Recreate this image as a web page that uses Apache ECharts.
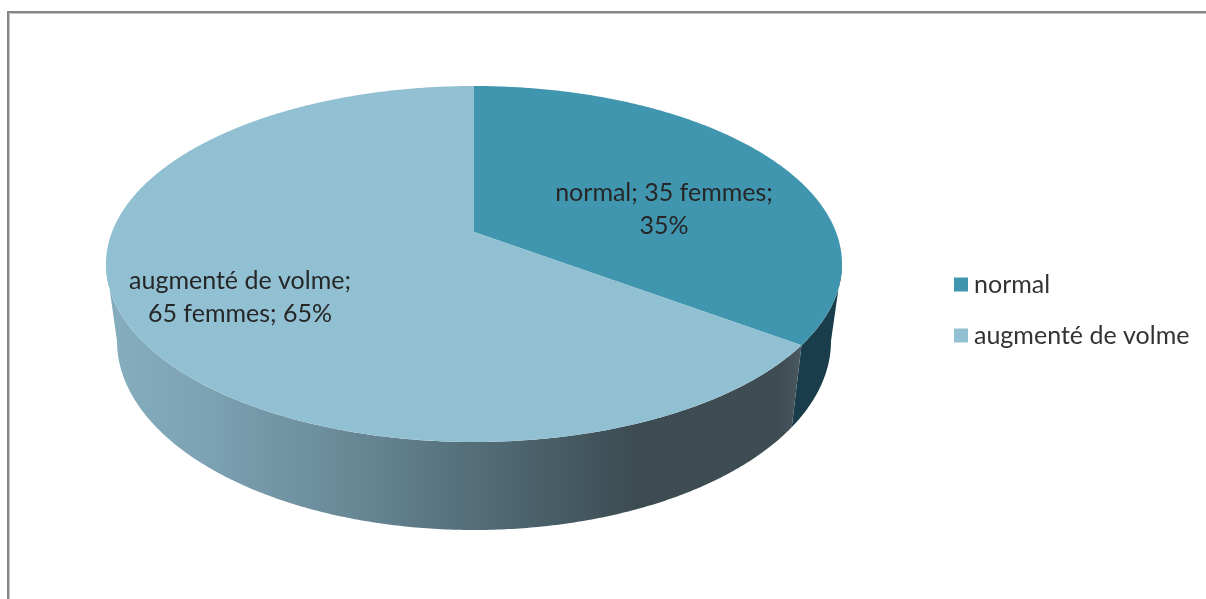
<!DOCTYPE html>
<html>
<head>
<meta charset="utf-8">
<style>html,body{margin:0;padding:0;background:#fff}#c{width:1206px;height:599px}</style>
<script src="https://cdn.jsdelivr.net/npm/echarts@6/dist/echarts.min.js"></script>
</head>
<body>
<div id="c"></div>
<script>
const categories = ['normal', 'augmenté de volme'];
const values = [35, 65];
const labelTexts = ['normal; 35 femmes;\n35%', 'augmenté de volme;\n65 femmes; 65%'];

const topColors = ['#4095AF', '#92C0D3'];
const labelPos = [[664, 209], [240, 297]];
const TOP = {cx: 474, cy: 264, rx: 368, ry: 178};
const BOTTOM = {cx: 474, cy: 341, rx: 357, ry: 189};
const E = 0.18; // perspective of the tilted disc

function project(e, deg) {
  const a = deg * Math.PI / 180, u = Math.sin(a), v = Math.cos(a);
  const d = 1 + E * v;
  return [e.cx + e.rx * u * Math.sqrt(1 - E * E) / d, e.cy - e.ry * (v + E) / d];
}
function arc(e, a0, a1) {
  const n = Math.max(2, Math.ceil(Math.abs(a1 - a0) * 2)), pts = [];
  for (let i = 0; i <= n; i++) pts.push(project(e, a0 + (a1 - a0) * i / n));
  return pts;
}
const total = values.reduce((s, x) => s + x, 0);
function sliceRange(i) {
  const before = values.slice(0, i).reduce((s, x) => s + x, 0);
  return [before / total * 360, (before + values[i]) / total * 360];
}
// visible rim angles: cos(a) = -E on both sides
const rimRight = Math.acos(-E) * 180 / Math.PI;
const rimLeft = 360 - rimRight;

const wallFills = [
  '#193D4A',
  new echarts.graphic.LinearGradient(0, 0, 1, 0, [
    {offset: 0, color: '#86AEBF'},
    {offset: 0.16, color: '#7BA0B1'},
    {offset: 0.34, color: '#6A8A98'},
    {offset: 0.55, color: '#516B76'},
    {offset: 0.76, color: '#3C4C52'},
    {offset: 0.97, color: '#3E4D53'},
    {offset: 1, color: '#4A5A60'}
  ])
];

function renderSlice(i) {
  return function () {
    const [a0, a1] = sliceRange(i);
    const w0 = Math.max(a0, rimRight), w1 = Math.min(a1, rimLeft);
    const wall = arc(TOP, w0, w1).concat(arc(BOTTOM, w1, w0));
    const apex = [TOP.cx, TOP.cy - TOP.ry * E];
    const wedge = [apex].concat(arc(TOP, a0, a1));
    return {
      type: 'group',
      children: [
        {type: 'polygon', shape: {points: wall}, style: {fill: wallFills[i]}, z2: 1},
        {type: 'polygon', shape: {points: wedge}, style: {fill: topColors[i]}, z2: 2},
        {type: 'text', x: labelPos[i][0], y: labelPos[i][1], z2: 3, style: {
          text: labelTexts[i], align: 'center', verticalAlign: 'middle',
          font: '25px Lato', lineHeight: 33, fill: '#262626'
        }}
      ]
    };
  };
}

const chart = echarts.init(document.getElementById('c'), null, {renderer: 'canvas'});
chart.setOption({
  animation: false,
  backgroundColor: '#ffffff',
  graphic: [
    {type: 'rect', silent: true, z: 0, shape: {x: 9.5, y: 13.5, width: 1400, height: 800}, style: {fill: 'none', stroke: '#c4c4c4', lineWidth: 1}},
    {type: 'rect', silent: true, z: 0, shape: {x: 8, y: 12, width: 1400, height: 800}, style: {fill: 'none', stroke: '#868686', lineWidth: 2}}
  ],
  legend: {
    orient: 'vertical', left: 954, top: 272, itemWidth: 14, itemHeight: 14, itemGap: 26,
    icon: 'rect', selectedMode: false, padding: 0,
    textStyle: {fontFamily: 'Lato', fontSize: 25, color: '#333333', padding: [0, 0, 0, 1]},
    data: categories
  },
  series: categories.map((name, i) => ({
    type: 'custom', name, coordinateSystem: 'none', silent: true,
    itemStyle: {color: topColors[i]},
    data: [values[i]],
    renderItem: renderSlice(i)
  }))
});
</script>
</body>
</html>
